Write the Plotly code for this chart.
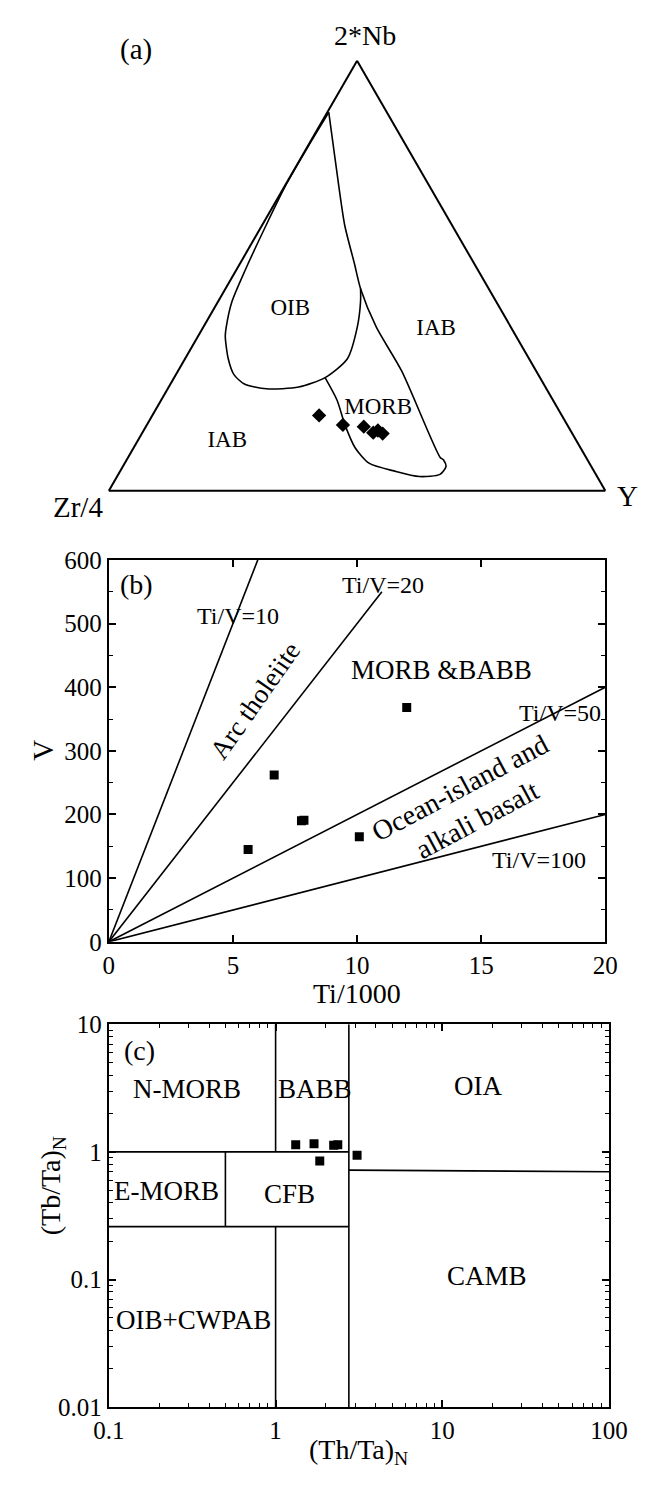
import math
import plotly.graph_objects as go

FONT = "Liberation Serif"
W, H = 666, 1485

# ---------------- Panel (a): ternary 2*Nb - Zr/4 - Y ----------------
samples_nb = [0.175, 0.153, 0.149, 0.135, 0.140, 0.133]
samples_zr = [0.489, 0.452, 0.412, 0.400, 0.388, 0.382]
samples_y = [0.336, 0.395, 0.439, 0.465, 0.472, 0.485]

# boundary: IAB / MORB (right line + MORB lower loop)
bnd1_nb = [0.880, 0.765, 0.618, 0.529, 0.470, 0.381, 0.278, 0.078, 0.071, 0.056,
           0.038, 0.033, 0.045, 0.064, 0.100, 0.152, 0.211, 0.263]
bnd1_zr = [0.117, 0.161, 0.216, 0.241, 0.258, 0.271, 0.271, 0.294, 0.290, 0.293,
           0.314, 0.358, 0.400, 0.444, 0.454, 0.448, 0.435, 0.433]
bnd1_y = [0.003, 0.074, 0.166, 0.230, 0.272, 0.348, 0.451, 0.628, 0.639, 0.651,
          0.648, 0.609, 0.555, 0.492, 0.446, 0.400, 0.354, 0.304]

# boundary: OIB field
oib_nb = [0.880, 0.800, 0.714, 0.618, 0.514, 0.440, 0.381, 0.359, 0.307, 0.270,
          0.248, 0.237, 0.241, 0.263, 0.307, 0.381, 0.440, 0.470]
oib_zr = [0.117, 0.199, 0.285, 0.374, 0.468, 0.532, 0.573, 0.586, 0.606, 0.613,
          0.603, 0.564, 0.497, 0.433, 0.366, 0.309, 0.273, 0.258]
oib_y = [0.003, 0.001, 0.001, 0.008, 0.018, 0.028, 0.046, 0.055, 0.087, 0.117,
         0.149, 0.199, 0.262, 0.304, 0.327, 0.310, 0.287, 0.272]

field_a_text = ["OIB", "IAB", "MORB", "IAB"]
field_a_nb = [0.421, 0.3745, 0.1906, 0.1152]
field_a_zr = [0.424, 0.1535, 0.362, 0.704]
field_a_y = [0.155, 0.472, 0.447, 0.181]

# ---------------- Panel (b): Ti/1000 vs V ----------------
ti_samples = [5.61, 6.66, 7.76, 7.86, 10.09, 12.0]
v_samples = [145, 262, 190, 191, 165, 368]

ratio_names = ["Ti/V=10", "Ti/V=20", "Ti/V=50", "Ti/V=100"]
ratio_x0 = [0, 0, 0, 0]
ratio_y0 = [0, 0, 0, 0]
ratio_x1 = [6, 11, 20, 20]
ratio_y1 = [600, 550, 400, 200]

b_labels = ["Ti/V=10", "Ti/V=20", "MORB &amp;BABB", "Ti/V=50", "Ti/V=100",
            "Arc tholeiite", "Ocean-island and<br>alkali basalt", "(b)"]
b_label_x = [5.19, 11.05, 13.4, 18.17, 17.32, 5.87, 14.5, 1.1]
b_label_y = [512, 560, 427, 359, 128, 379, 217, 561]
b_label_size = [24, 24, 27, 24, 24, 27, 28, 28]
b_label_angle = [0, 0, 0, 0, 0, -55, -28, 0]

# ---------------- Panel (c): (Th/Ta)N vs (Tb/Ta)N ----------------
thta_samples = [1.32, 1.70, 2.23, 2.36, 3.08, 1.84]
tbta_samples = [1.14, 1.16, 1.13, 1.14, 0.943, 0.848]

seg_x = [[0.1, 2.75], [2.75, 100], [0.1, 2.75], [1, 1], [1, 1], [2.75, 2.75], [0.5, 0.5]]
seg_y = [[1, 1], [0.72, 0.70], [0.26, 0.26], [10, 1], [0.26, 0.01], [10, 0.01], [1, 0.26]]

c_labels = ["N-MORB", "BABB", "OIA", "E-MORB", "CFB", "CAMB", "OIB+CWPAB", "(c)"]
c_label_x = [0.296, 1.72, 16.4, 0.221, 1.215, 18.5, 0.323, 0.152]
c_label_y = [3.1, 3.1, 3.3, 0.49, 0.464, 0.107, 0.0478, 6.2]
c_label_size = [27, 27, 27, 27, 27, 27, 27, 28]

fig = go.Figure()

line_style = dict(color="black", width=1.6, shape="spline", smoothing=0.7)
fig.add_trace(go.Scatterternary(a=bnd1_nb, b=bnd1_zr, c=bnd1_y, mode="lines",
                                line=line_style, hoverinfo="skip", showlegend=False))
fig.add_trace(go.Scatterternary(a=oib_nb, b=oib_zr, c=oib_y, mode="lines",
                                line=line_style, hoverinfo="skip", showlegend=False))
fig.add_trace(go.Scatterternary(a=samples_nb, b=samples_zr, c=samples_y, mode="markers",
                                marker=dict(symbol="diamond", size=11, color="black"),
                                showlegend=False))
fig.add_trace(go.Scatterternary(a=field_a_nb, b=field_a_zr, c=field_a_y, mode="text",
                                text=field_a_text,
                                textfont=dict(family=FONT, size=23, color="black"),
                                showlegend=False, hoverinfo="skip"))

for i in range(len(ratio_names)):
    fig.add_trace(go.Scatter(x=[ratio_x0[i], ratio_x1[i]], y=[ratio_y0[i], ratio_y1[i]],
                             mode="lines", line=dict(color="black", width=1.6),
                             xaxis="x", yaxis="y", showlegend=False, hoverinfo="skip"))
fig.add_trace(go.Scatter(x=ti_samples, y=v_samples, mode="markers",
                         marker=dict(symbol="square", size=9, color="black"),
                         xaxis="x", yaxis="y", showlegend=False))

for i in range(len(seg_x)):
    fig.add_trace(go.Scatter(x=seg_x[i], y=seg_y[i], mode="lines",
                             line=dict(color="black", width=1.6),
                             xaxis="x2", yaxis="y2", showlegend=False, hoverinfo="skip"))
fig.add_trace(go.Scatter(x=thta_samples, y=tbta_samples, mode="markers",
                         marker=dict(symbol="square", size=9, color="black"),
                         xaxis="x2", yaxis="y2", showlegend=False))

annotations = []
for i, t in enumerate(b_labels):
    annotations.append(dict(x=b_label_x[i], y=b_label_y[i], xref="x", yref="y", text=t,
                            showarrow=False, textangle=b_label_angle[i],
                            xanchor="center", yanchor="middle",
                            font=dict(family=FONT, size=b_label_size[i], color="black")))
for i, t in enumerate(c_labels):
    annotations.append(dict(x=math.log10(c_label_x[i]), y=math.log10(c_label_y[i]),
                            xref="x2", yref="y2", text=t, showarrow=False,
                            xanchor="center", yanchor="middle",
                            font=dict(family=FONT, size=c_label_size[i], color="black")))


def paper_text(text, px, py, size, angle=0):
    return dict(x=px / W, y=1 - py / H, xref="paper", yref="paper", text=text,
                showarrow=False, textangle=angle, xanchor="center", yanchor="middle",
                font=dict(family=FONT, size=size, color="black"))


annotations += [
    paper_text("(a)", 127, 37, 29),
    paper_text("2*Nb", 368, 23, 28),
    paper_text("Zr/4", 65, 503, 29),
    paper_text("Y", 645, 492, 29),
    paper_text("V", 29, 751, 29, -90),
    paper_text("Ti/1000", 360, 999, 28),
    paper_text("(Tb/Ta)<sub>N</sub>", 38, 1195, 28, -90),
    paper_text("(Th/Ta)<sub>N</sub>", 361, 1465, 28),
]

tern_axis = dict(showline=True, linecolor="black", linewidth=2, showgrid=False,
                 showticklabels=False, ticks="", title=dict(text=""))

common_axis = dict(showline=True, linecolor="black", linewidth=2, mirror="ticks",
                   ticks="inside", tickcolor="black", tickwidth=1.5, ticklen=7,
                   showgrid=False, zeroline=False,
                   tickfont=dict(family=FONT, size=25, color="black"))

minor_decades = [m * 10 ** e for e in range(-2, 2) for m in range(2, 10)]

fig.update_layout(
    width=W, height=H, autosize=False,
    margin=dict(l=0, r=0, t=0, b=0),
    paper_bgcolor="white", plot_bgcolor="white",
    showlegend=False,
    ternary=dict(sum=1, bgcolor="white",
                 domain=dict(x=[98 / W, 622 / W], y=[1 - 494.5 / H, 1 - 40.7 / H]),
                 aaxis=tern_axis, baxis=tern_axis, caxis=tern_axis),
    xaxis=dict(common_axis, domain=[98 / W, 622 / W], range=[0, 20], anchor="y",
               tickvals=[0, 5, 10, 15, 20]),
    yaxis=dict(common_axis, domain=[1 - 946 / H, 1 - 557 / H], range=[0, 600], anchor="x",
               tickvals=[0, 100, 200, 300, 400, 500, 600],
               minor=dict(dtick=50, ticks="inside", ticklen=4, tickcolor="black", tickwidth=1.2)),
    xaxis2=dict(common_axis, type="log", domain=[98 / W, 626 / W], range=[-1, 2], anchor="y2",
                tickvals=[0.1, 1, 10, 100], ticktext=["0.1", "1", "10", "100"],
                minor=dict(tickvals=minor_decades, ticks="inside", ticklen=4,
                           tickcolor="black", tickwidth=1.2)),
    yaxis2=dict(common_axis, type="log", domain=[1 - 1420 / H, 1 - 1030 / H], range=[-2, 1],
                anchor="x2",
                tickvals=[0.01, 0.1, 1, 10], ticktext=["0.01", "0.1", "1", "10"],
                minor=dict(tickvals=minor_decades, ticks="inside", ticklen=4,
                           tickcolor="black", tickwidth=1.2)),
    annotations=annotations,
)

fig.write_html(
    "out.html",
    config={"displayModeBar": False, "responsive": False},
    post_script="document.body.style.margin='0px';"
                "document.documentElement.style.overflow='hidden';",
)
